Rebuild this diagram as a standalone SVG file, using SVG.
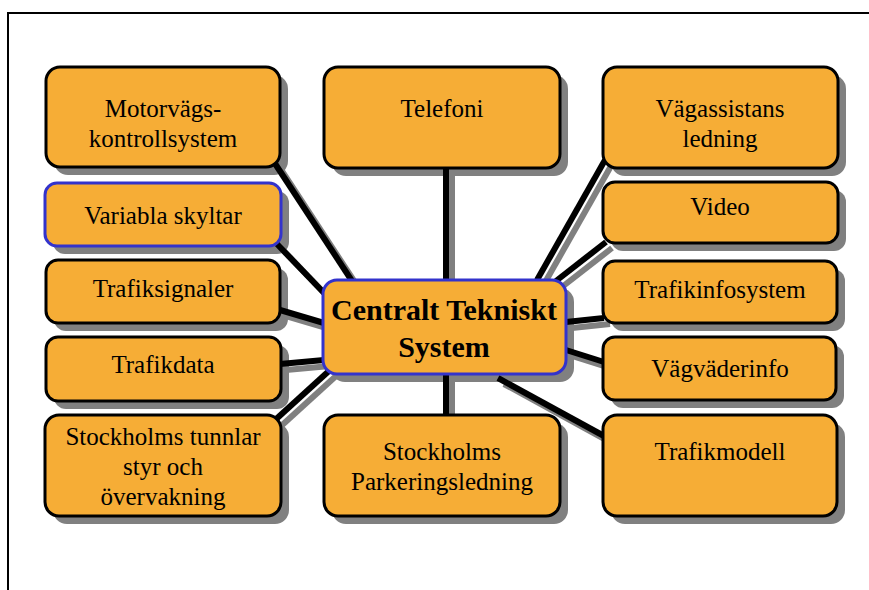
<svg xmlns="http://www.w3.org/2000/svg" width="869" height="590" viewBox="0 0 869 590">
<style>
.sh{fill:#808080}
.bx{fill:#F6AD36;stroke:#000;stroke-width:3}
.bl{stroke:#3333CC}
.t{font-family:"Liberation Serif","Times New Roman",serif;font-size:25px;text-anchor:middle;fill:#000}
.tb{font-family:"Liberation Serif","Times New Roman",serif;font-size:30px;font-weight:bold;text-anchor:middle;fill:#000}
.ln{stroke:#000;stroke-width:6;fill:none}
.ls{stroke:#808080;stroke-width:6;fill:none}
</style>
<rect width="869" height="590" fill="#fff"/>
<path d="M8 590 V13 H869" fill="none" stroke="#000" stroke-width="2"/>
<g id="shadows">
<rect class="sh" x="54" y="75" width="234" height="100" rx="14"/>
<rect class="sh" x="53" y="191" width="236" height="63" rx="12"/>
<rect class="sh" x="54" y="268" width="234" height="63" rx="12"/>
<rect class="sh" x="54" y="345" width="235" height="64" rx="12"/>
<rect class="sh" x="53" y="423" width="236" height="101" rx="14"/>
<rect class="sh" x="332" y="75" width="236" height="101" rx="14"/>
<rect class="sh" x="332" y="423" width="236" height="101" rx="14"/>
<rect class="sh" x="611" y="75" width="235" height="101" rx="14"/>
<rect class="sh" x="611" y="190" width="235" height="61" rx="12"/>
<rect class="sh" x="611" y="269" width="234" height="62" rx="12"/>
<rect class="sh" x="611" y="345" width="233" height="63" rx="12"/>
<rect class="sh" x="611" y="423" width="234" height="101" rx="14"/>
<rect class="sh" x="331" y="288" width="243" height="94" rx="14"/>
</g>
<g id="connectors">
<g transform="translate(6,6)">
<line class="ls" x1="274" y1="162" x2="352" y2="281"/>
<line class="ls" x1="277" y1="244" x2="324" y2="293"/>
<line class="ls" x1="280" y1="310" x2="324" y2="323"/>
<line class="ls" x1="280" y1="364" x2="324" y2="360"/>
<line class="ls" x1="274" y1="421" x2="330" y2="370"/>
<line class="ls" x1="446" y1="168" x2="446" y2="280"/>
<line class="ls" x1="446" y1="374" x2="446" y2="415"/>
<line class="ls" x1="605" y1="160" x2="537" y2="280"/>
<line class="ls" x1="606" y1="242" x2="556" y2="281"/>
<line class="ls" x1="566" y1="322" x2="604" y2="318"/>
<line class="ls" x1="566" y1="350" x2="604" y2="362"/>
<line class="ls" x1="498" y1="378" x2="604" y2="436"/>
</g>
<line class="ln" x1="274" y1="162" x2="352" y2="281"/>
<line class="ln" x1="277" y1="244" x2="324" y2="293"/>
<line class="ln" x1="280" y1="310" x2="324" y2="323"/>
<line class="ln" x1="280" y1="364" x2="324" y2="360"/>
<line class="ln" x1="274" y1="421" x2="330" y2="370"/>
<line class="ln" x1="446" y1="168" x2="446" y2="280"/>
<line class="ln" x1="446" y1="374" x2="446" y2="415"/>
<line class="ln" x1="605" y1="160" x2="537" y2="280"/>
<line class="ln" x1="606" y1="242" x2="556" y2="281"/>
<line class="ln" x1="566" y1="322" x2="604" y2="318"/>
<line class="ln" x1="566" y1="350" x2="604" y2="362"/>
<line class="ln" x1="498" y1="378" x2="604" y2="436"/>
</g>
<g id="motorvags">
<rect class="bx" x="46" y="67" width="234" height="100" rx="14"/>
<text class="t" x="163" y="117">Motorvägs-</text>
<text class="t" x="163" y="147">kontrollsystem</text>
</g>
<g id="variabla">
<rect class="bx bl" x="45" y="183" width="236" height="63" rx="12"/>
<text class="t" x="163" y="224">Variabla skyltar</text>
</g>
<g id="trafiksignaler">
<rect class="bx" x="46" y="260" width="234" height="63" rx="12"/>
<text class="t" x="163" y="297">Trafiksignaler</text>
</g>
<g id="trafikdata">
<rect class="bx" x="46" y="337" width="235" height="64" rx="12"/>
<text class="t" x="163" y="373">Trafikdata</text>
</g>
<g id="tunnlar">
<rect class="bx" x="45" y="415" width="236" height="101" rx="14"/>
<text class="t" x="163" y="445">Stockholms tunnlar</text>
<text class="t" x="163" y="475">styr och</text>
<text class="t" x="163" y="505">övervakning</text>
</g>
<g id="telefoni">
<rect class="bx" x="324" y="67" width="236" height="101" rx="14"/>
<text class="t" x="442" y="117">Telefoni</text>
</g>
<g id="parkering">
<rect class="bx" x="324" y="415" width="236" height="101" rx="14"/>
<text class="t" x="442" y="460">Stockholms</text>
<text class="t" x="442" y="490">Parkeringsledning</text>
</g>
<g id="vagassistans">
<rect class="bx" x="603" y="67" width="235" height="101" rx="14"/>
<text class="t" x="720" y="117">Vägassistans</text>
<text class="t" x="720" y="147">ledning</text>
</g>
<g id="video">
<rect class="bx" x="603" y="182" width="235" height="61" rx="12"/>
<text class="t" x="720" y="215">Video</text>
</g>
<g id="trafikinfo">
<rect class="bx" x="603" y="261" width="234" height="62" rx="12"/>
<text class="t" x="720" y="298">Trafikinfosystem</text>
</g>
<g id="vagvader">
<rect class="bx" x="603" y="337" width="233" height="63" rx="12"/>
<text class="t" x="720" y="377">Vägväderinfo</text>
</g>
<g id="trafikmodell">
<rect class="bx" x="603" y="415" width="234" height="101" rx="14"/>
<text class="t" x="720" y="460">Trafikmodell</text>
</g>
<g id="central">
<rect class="bx bl" x="323" y="280" width="243" height="94" rx="14"/>
<text class="tb" x="444" y="320">Centralt Tekniskt</text>
<text class="tb" x="444" y="357">System</text>
</g>
</svg>
